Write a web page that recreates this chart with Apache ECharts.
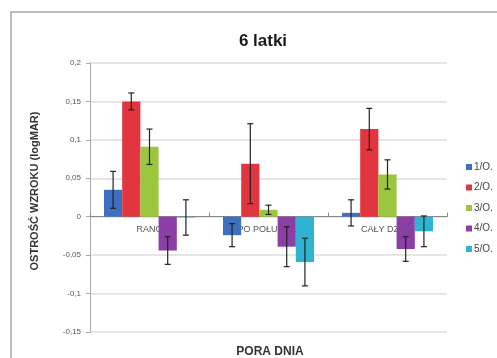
<!DOCTYPE html>
<html><head><meta charset="utf-8">
<script src="https://cdn.jsdelivr.net/npm/echarts@6/dist/echarts.min.js"></script>
<style>html,body{margin:0;padding:0;background:#fff}#c{width:497px;height:358px}</style>
</head><body><div id="c"></div>
<script>
var categories = ['RANO', 'PO POŁUDNIU', 'CAŁY DZIEŃ'];
var seriesNames = ['1/O.', '2/O.', '3/O.', '4/O.', '5/O.'];
var values = [
  [0.035, -0.024, 0.005],
  [0.150, 0.069, 0.114],
  [0.091, 0.009, 0.055],
  [-0.044, -0.039, -0.042],
  [-0.001, -0.059, -0.019]
];
var errors = [
  [0.024, 0.015, 0.017],
  [0.011, 0.052, 0.027],
  [0.023, 0.006, 0.019],
  [0.018, 0.026, 0.016],
  [0.023, 0.031, 0.020]
];
var yTicks = [-0.15, -0.1, -0.05, 0, 0.05, 0.1, 0.15, 0.2];
var colors = ['#3f6fc0', '#e2353f', '#9cc63e', '#8a3ea6', '#2fb3d1'];

var BW = 0.153;
var series = [];
series.push({
  type: 'custom', z: 1, silent: true,
  data: categories.map(function (c, k) { return [k, 0]; }),
  renderItem: function (params, api) {
    var k = api.value(0);
    var c = api.coord([k, 0]);
    return { type: 'text', style: { text: categories[k], x: c[0], y: c[1] + 13, align: 'center', verticalAlign: 'middle',
      font: '9px "Liberation Sans"', fill: '#555' } };
  }
});
seriesNames.forEach(function (n, i) {
  series.push({
    name: n, type: 'bar', data: values[i], barWidth: (BW * 100) + '%', barGap: '0%',
    itemStyle: { color: colors[i] }, z: 2
  });
});
seriesNames.forEach(function (n, i) {
  series.push({
    type: 'custom', z: 5, silent: true,
    data: values[i].map(function (v, k) { return [k, v, errors[i][k]]; }),
    renderItem: function (params, api) {
      var k = api.value(0), v = api.value(1), e = api.value(2);
      var band = api.size([1, 0])[0];
      var c = api.coord([k, v]);
      var x = c[0] + (i - 2) * band * BW;
      var top = api.coord([k, v + e])[1];
      var bot = api.coord([k, v - e])[1];
      var s = { stroke: '#222', lineWidth: 1.2 };
      return { type: 'group', children: [
        { type: 'line', shape: { x1: x, y1: top, x2: x, y2: bot }, style: s },
        { type: 'line', shape: { x1: x - 3, y1: top, x2: x + 3, y2: top }, style: s },
        { type: 'line', shape: { x1: x - 3, y1: bot, x2: x + 3, y2: bot }, style: s }
      ] };
    }
  });
});

var chart = echarts.init(document.getElementById('c'));
chart.setOption({
  animation: false,
  backgroundColor: '#fff',
  graphic: [{ type: 'rect', shape: { x: 11, y: 12, width: 520, height: 380 },
    style: { fill: 'none', stroke: '#a8a8a8', lineWidth: 1.5 }, z: -1 },
    { type: 'text', style: { text: 'PORA DNIA', x: 270, y: 352, align: 'center', verticalAlign: 'middle',
      font: 'bold 12px "Liberation Sans"', fill: '#333' } },
    { type: 'text', x: 35, y: 191, rotation: Math.PI / 2,
      style: { text: 'OSTROŚĆ WZROKU (logMAR)', x: 0, y: 0, align: 'center', verticalAlign: 'middle',
      font: 'bold 11px "Liberation Sans"', fill: '#333' } }],
  title: { text: '6 latki', left: 258, top: 28, textAlign: 'center',
    textStyle: { fontFamily: 'Liberation Sans', fontWeight: 'bold', fontSize: 17, color: '#1a1a1a' } },
  legend: { orient: 'vertical', left: 461, top: 157, itemWidth: 6, itemHeight: 6, itemGap: 10.5,
    icon: 'rect', data: seriesNames,
    textStyle: { fontSize: 10, color: '#444', fontFamily: 'Liberation Sans', padding: [0, 0, 0, -3] } },
  grid: { left: 90, right: 50, top: 63, bottom: 26, outerBoundsMode: 'none', containLabel: false },
  xAxis: {
    type: 'category', data: categories,
    axisLine: { onZero: true, lineStyle: { color: '#888' } },
    axisTick: { show: true, length: 4, inside: true, lineStyle: { color: '#888' } },
    axisLabel: { show: false }
  },
  yAxis: {
    type: 'value', min: -0.15, max: 0.2, interval: 0.05,
    axisLine: { show: true, lineStyle: { color: '#aaa' } },
    axisTick: { show: true, length: 4, lineStyle: { color: '#aaa' } },
    splitLine: { lineStyle: { color: '#dedede', width: 1.5 } },
    axisLabel: { fontSize: 8, color: '#555', margin: 9, fontFamily: 'Liberation Sans',
      formatter: function (v) { var r = Math.round(v * 100) / 100; return String(r).replace('.', ','); } }
  },
  series: series
});
</script></body></html>
